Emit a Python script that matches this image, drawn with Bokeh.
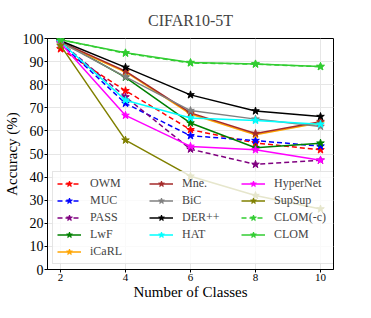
from bokeh.plotting import figure
from bokeh.models import Range1d, Legend, LegendItem, FixedTicker
from bokeh.embed import file_html
from bokeh.resources import INLINE

# ---- data ----
classes = [2, 4, 6, 8, 10]
x_ticks = [2, 4, 6, 8, 10]
y_ticks = [0, 10, 20, 30, 40, 50, 60, 70, 80, 90, 100]

owm = [95.5, 77.4, 60.5, 54.8, 51.8]
muc = [98.0, 71.9, 57.9, 55.8, 53.4]
pass_ = [98.5, 74.7, 52.1, 45.5, 47.3]
lwf = [99.0, 83.2, 63.4, 52.7, 54.7]
icarl = [98.0, 85.5, 67.3, 58.3, 63.5]
mne = [98.5, 85.9, 67.8, 58.9, 64.0]
bic = [98.5, 83.4, 68.8, 65.1, 61.9]
derpp = [99.0, 87.5, 75.6, 68.6, 66.2]
hat = [98.5, 73.3, 65.6, 64.5, 62.9]
hypernet = [98.0, 66.7, 53.3, 51.8, 47.3]
supsup = [97.0, 56.0, 40.4, 32.0, 26.2]
clom_c = [99.5, 93.6, 89.4, 88.9, 87.8]
clom = [99.5, 93.8, 89.6, 89.0, 87.9]

names = ["OWM", "MUC", "PASS", "LwF", "iCaRL", "Mne.", "BiC", "DER++",
         "HAT", "HyperNet", "SupSup", "CLOM(-c)", "CLOM"]
values = [owm, muc, pass_, lwf, icarl, mne, bic, derpp, hat, hypernet,
          supsup, clom_c, clom]
colors = ["red", "blue", "purple", "green", "orange", "brown", "gray",
          "black", "cyan", "magenta", "olive", "limegreen", "limegreen"]
dashed = [True, True, True, False, False, False, False, False, False,
          False, False, True, False]

FONT = "Liberation Serif"

p = figure(width=355, height=302, output_backend="svg", toolbar_location=None,
           x_range=Range1d(1.6, 10.4), y_range=Range1d(0, 100),
           title="CIFAR10-5T",
           min_border_left=46, min_border_right=22,
           min_border_top=37, min_border_bottom=31)

p.title.text_font = FONT
p.title.text_font_size = "16px"
p.title.text_font_style = "normal"
p.title.align = "center"
p.title.standoff = 19

p.outline_line_color = "black"
p.outline_line_width = 1
p.background_fill_color = "white"
p.border_fill_color = "white"

p.xaxis.ticker = FixedTicker(ticks=x_ticks)
p.yaxis.ticker = FixedTicker(ticks=y_ticks)
for ax in (p.xaxis[0], p.yaxis[0]):
    ax.axis_line_color = "black"
    ax.major_tick_line_color = "black"
    ax.major_tick_in = 0
    ax.major_tick_out = 3
    ax.minor_tick_line_color = None
    ax.major_label_text_font = FONT
    ax.axis_label_text_font = FONT
    ax.axis_label_text_font_style = "normal"
    ax.axis_label_text_font_size = "15px"
    ax.major_label_standoff = 1
    ax.axis_label_standoff = 0
    ax.axis_label_text_color = "black"
    ax.major_label_text_color = "black"

p.xaxis.major_label_text_font_size = "11px"
p.yaxis.major_label_text_font_size = "14px"
p.xaxis.axis_label = "Number of Classes"
p.yaxis.axis_label = "Accuracy (%)"

p.xgrid.ticker = FixedTicker(ticks=x_ticks)
p.ygrid.ticker = FixedTicker(ticks=y_ticks)
p.grid.grid_line_color = "#e6e6e6"
p.grid.grid_line_width = 1

items = {}
for name, vals, col, dsh in zip(names, values, colors, dashed):
    r1 = p.line(classes, vals, line_color=col, line_width=1.5,
                line_dash="5 3" if dsh else "solid")
    r2 = p.scatter(classes, vals, marker="star", size=8, fill_color=col,
                   line_color=col)
    items[name] = LegendItem(label=name, renderers=[r1, r2])

blank_r = p.line([], [], line_alpha=0)
blank = LegendItem(label=" ", renderers=[blank_r])

order = ["OWM", "MUC", "PASS", "LwF", "iCaRL",
         "Mne.", "BiC", "DER++", "HAT"]
legend_items = [items[n] for n in order] + [blank] + \
    [items[n] for n in ["HyperNet", "SupSup", "CLOM(-c)", "CLOM"]]

legend = Legend(items=legend_items, location="bottom_left", ncols=3,
                orientation="vertical", margin=5, padding=4, spacing=2,
                label_height=15, glyph_height=15, glyph_width=24,
                label_standoff=9, label_width=57,
                label_text_font=FONT, label_text_font_size="12px",
                border_line_color="#cccccc", border_line_width=1,
                background_fill_color="white", background_fill_alpha=0.8)
p.add_layout(legend)

open("out.html", "w").write(file_html(p, INLINE))
